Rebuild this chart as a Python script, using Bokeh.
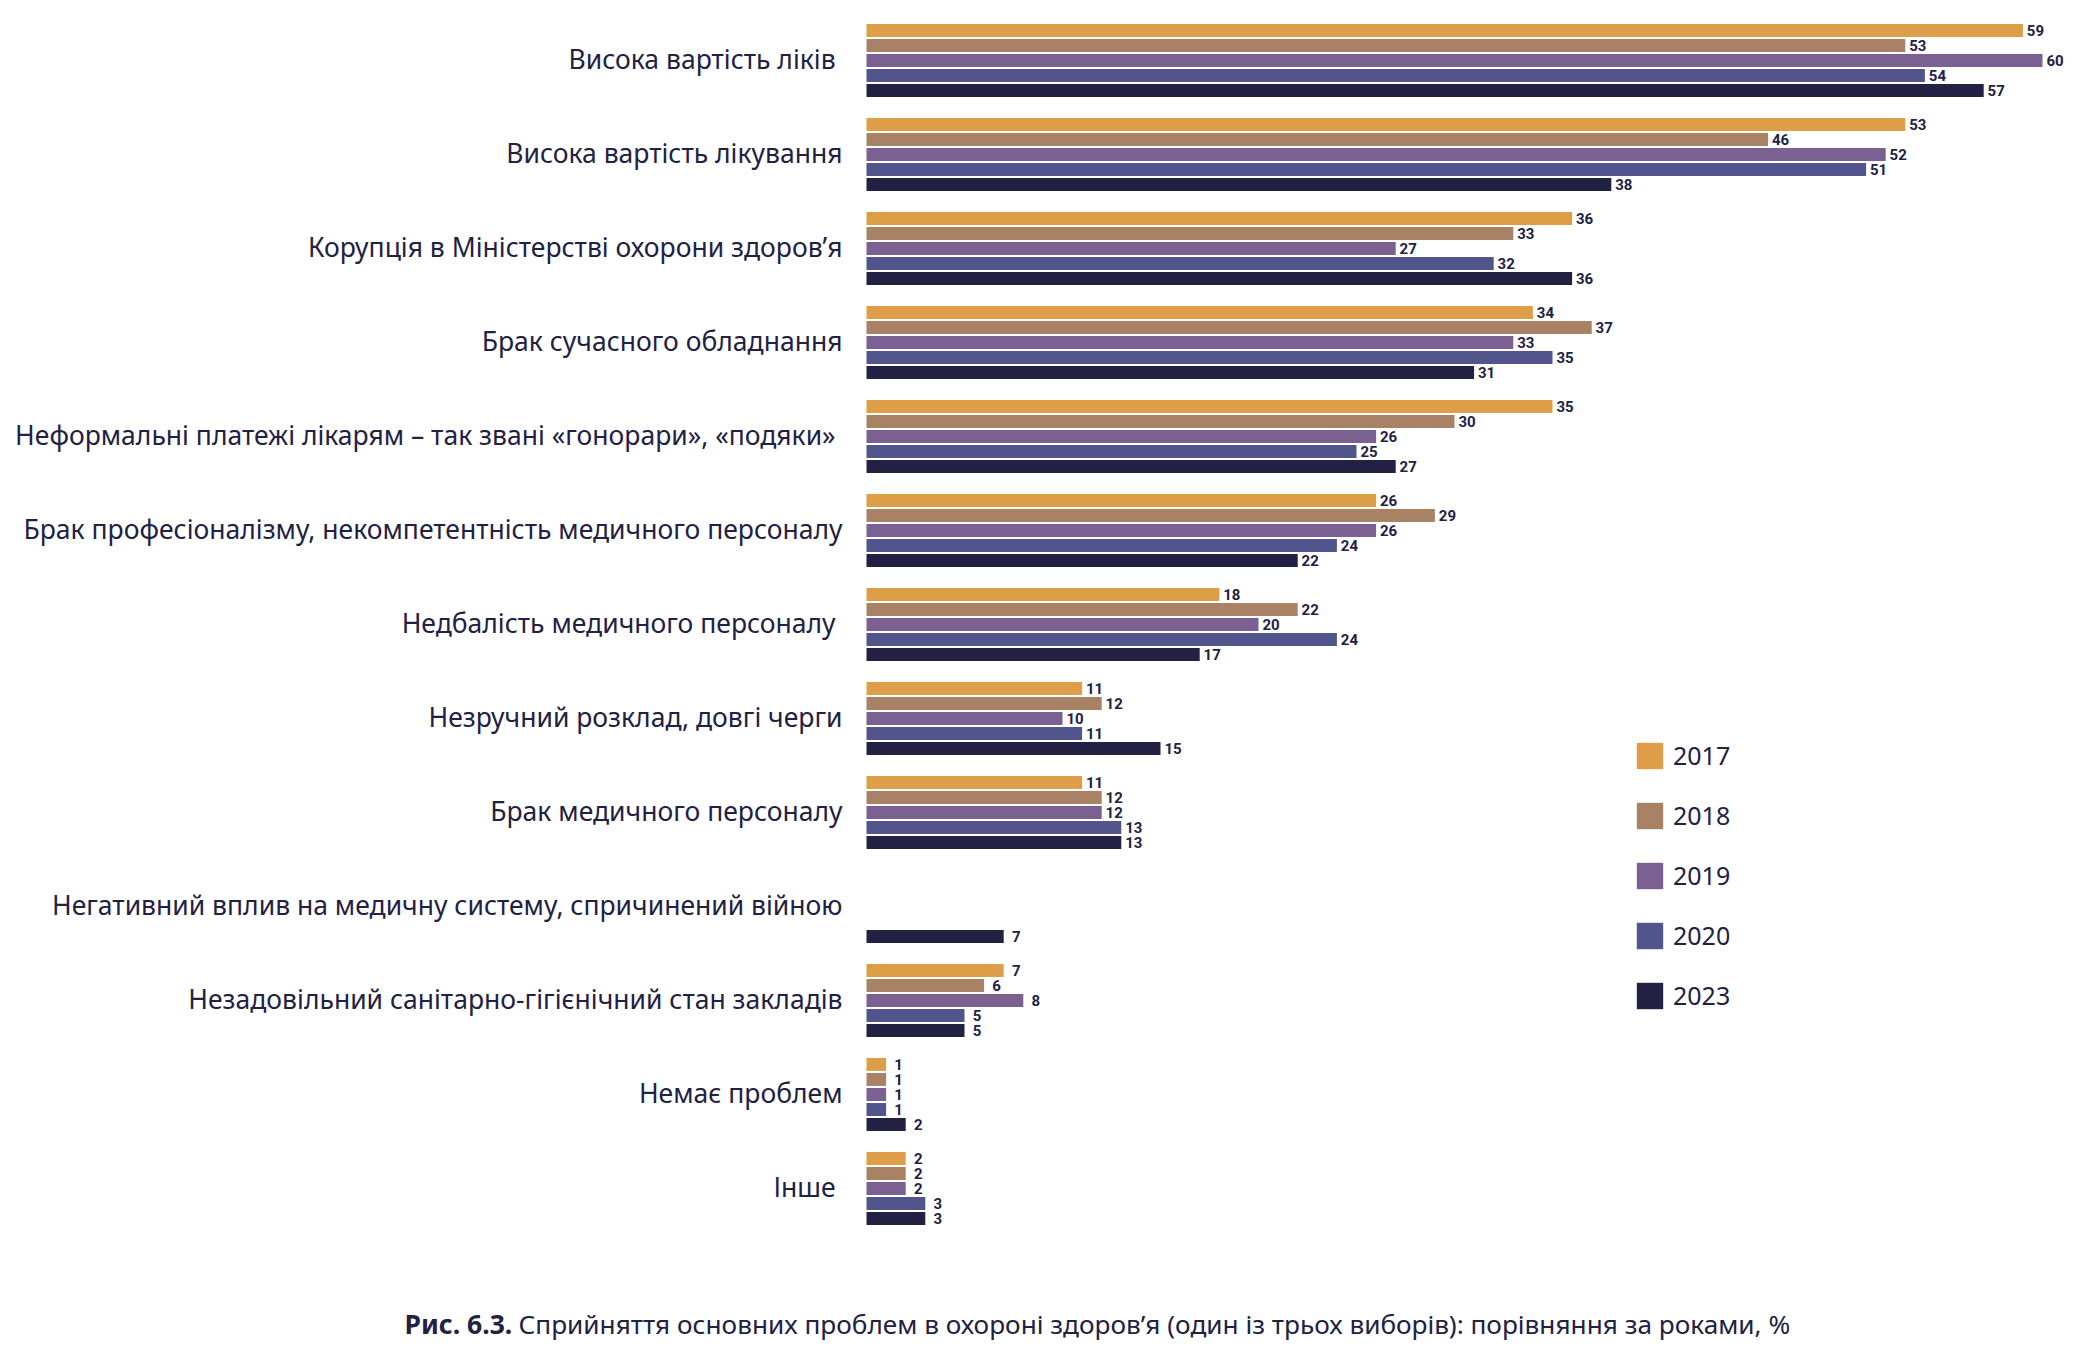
from bokeh.plotting import figure
from bokeh.models import ColumnDataSource, Range1d, Legend, LegendItem
from bokeh.core.properties import value
from bokeh.transform import dodge
from bokeh.embed import file_html
from bokeh.resources import INLINE

categories = [
    "Висока вартість ліків ",
    "Висока вартість лікування",
    "Корупція в Міністерстві охорони здоров’я",
    "Брак сучасного обладнання",
    "Неформальні платежі лікарям – так звані «гонорари», «подяки» ",
    "Брак професіоналізму, некомпетентність медичного персоналу",
    "Недбалість медичного персоналу ",
    "Незручний розклад, довгі черги",
    "Брак медичного персоналу",
    "Негативний вплив на медичну систему, спричинений війною",
    "Незадовільний санітарно-гігієнічний стан закладів",
    "Немає проблем",
    "Інше ",
]
years = ["2017", "2018", "2019", "2020", "2023"]
v2017 = [59, 53, 36, 34, 35, 26, 18, 11, 11, None, 7, 1, 2]
v2018 = [53, 46, 33, 37, 30, 29, 22, 12, 12, None, 6, 1, 2]
v2019 = [60, 52, 27, 33, 26, 26, 20, 10, 12, None, 8, 1, 2]
v2020 = [54, 51, 32, 35, 25, 24, 24, 11, 13, None, 5, 1, 3]
v2023 = [57, 38, 36, 31, 27, 22, 17, 15, 13, 7, 5, 2, 3]
series = [v2017, v2018, v2019, v2020, v2023]
colors = ["#DE9E48", "#A98266", "#7B6192", "#52558C", "#222143"]
caption_bold = "Рис. 6.3."
caption_rest = "Сприйняття основних проблем в охороні здоров’я (один із трьох виборів): порівняння за роками, %"

TXT = "#222143"
W, H = 2079, 1351
X0 = 866.0         # pixel of value 0
PXU = 19.6         # pixels per percent
Y0 = 60.0          # pixel of first group centre
PXG = 94.0         # pixels per group

p = figure(width=W, height=H, output_backend="svg", toolbar_location=None,
           x_range=Range1d(-X0 / PXU, (W - X0) / PXU),
           y_range=Range1d((H - Y0) / PXG, -Y0 / PXG),
           min_border=0, min_border_left=0, min_border_right=0,
           min_border_top=0, min_border_bottom=0)
p.axis.visible = False
p.grid.visible = False
p.outline_line_color = None
p.background_fill_color = "white"
p.border_fill_color = "white"

offs = [-0.32, -0.16, 0.0, 0.16, 0.32]
items = []
for j, (yr, vals, col) in enumerate(zip(years, series, colors)):
    ys = [i for i, v in enumerate(vals) if v is not None]
    xs = [v for v in vals if v is not None]
    src = ColumnDataSource(dict(y=ys, v=xs, lab=[str(v) for v in xs]))
    r = p.hbar(y=dodge("y", offs[j], range=p.y_range), left=0, right="v",
               height=0.138, source=src, fill_color=col, line_color=None)
    p.text(x="v", y=dodge("y", offs[j], range=p.y_range), text="lab", source=src,
           x_offset=12.5, text_align="center", text_baseline="middle",
           text_font=value("Roboto"), text_font_style="bold",
           text_font_size="15px", text_color=TXT)
    items.append(LegendItem(label=yr, renderers=[r]))

csrc = ColumnDataSource(dict(y=list(range(len(categories))), t=categories))
p.text(x=0, y="y", text="t", source=csrc, x_offset=-24, y_offset=-2,
       text_align="right", text_baseline="middle", text_font=value("Noto Sans"),
       text_font_size="26.5px", text_color=TXT)

cy = (1323 - Y0) / PXG
p.text(x=[(404 - X0) / PXU], y=[cy], text=[caption_bold], text_align="left",
       text_baseline="middle", text_font=value("Noto Sans"), text_font_style="bold",
       text_font_size="26.5px", text_color=TXT)
p.text(x=[(518 - X0) / PXU], y=[cy], text=[caption_rest], text_align="left",
       text_baseline="middle", text_font=value("Noto Sans"),
       text_font_size="26.2px", text_color=TXT)

leg = Legend(items=items, location=(1633, 339), orientation="vertical",
             glyph_width=33, glyph_height=33, label_height=33, spacing=26,
             label_standoff=7, padding=0, margin=0,
             border_line_color=None, background_fill_alpha=0,
             label_text_font="Noto Sans", label_text_font_size="25px",
             label_text_color=TXT)
p.add_layout(leg)

open("out.html", "w").write(file_html(p, INLINE))
